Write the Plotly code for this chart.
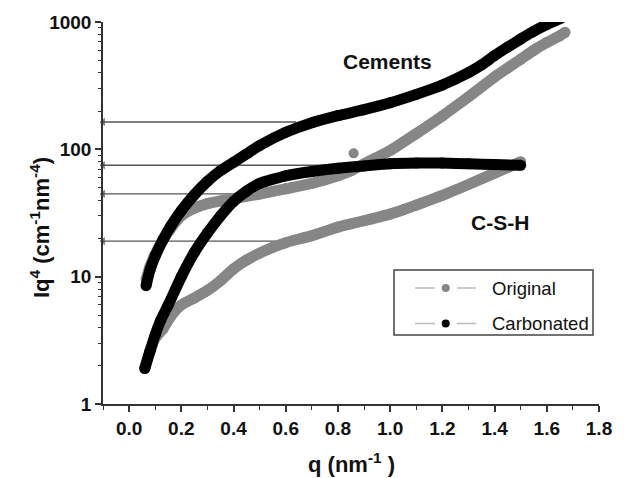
import plotly.graph_objects as go

# ---- data ----
q_cem_carb = [0.065, 0.08, 0.10, 0.13, 0.16, 0.20, 0.25, 0.30, 0.35, 0.40, 0.45, 0.50, 0.60, 0.70,
              0.80, 0.90, 1.00, 1.10, 1.20, 1.30, 1.35, 1.40, 1.45, 1.50, 1.55, 1.60, 1.66]
v_cem_carb = [8.5, 11.3, 14.5, 19.5, 25, 33, 44, 56, 68, 79, 92, 107, 136, 162,
              184, 205, 232, 270, 320, 400, 460, 545, 635, 735, 845, 955, 1080]

q_cem_orig = [0.065, 0.08, 0.10, 0.13, 0.16, 0.20, 0.25, 0.30, 0.40, 0.50, 0.60, 0.70, 0.80,
              0.85, 0.90, 1.00, 1.10, 1.20, 1.30, 1.40, 1.50, 1.55, 1.60, 1.65, 1.67]
v_cem_orig = [9.5, 12, 15, 19.5, 24, 30, 34.5, 37.5, 41, 44.5, 49, 54, 62,
              68, 77, 98, 133, 183, 258, 370, 510, 600, 690, 780, 830]

q_outlier = [0.86]
v_outlier = [93]

q_csh_carb = [0.06, 0.08, 0.10, 0.12, 0.15, 0.20, 0.25, 0.30, 0.35, 0.40, 0.45, 0.50, 0.60,
              0.70, 0.80, 0.90, 1.00, 1.10, 1.20, 1.30, 1.40, 1.50]
v_csh_carb = [1.9, 2.6, 3.5, 4.5, 6.0, 10, 15.5, 22, 30, 39, 47, 54, 62,
              67, 71, 74, 77, 78, 78, 77, 76, 75]

q_csh_orig = [0.06, 0.08, 0.10, 0.13, 0.16, 0.20, 0.25, 0.30, 0.35, 0.40, 0.45, 0.50, 0.55,
              0.60, 0.70, 0.80, 0.90, 1.00, 1.05, 1.10, 1.20, 1.30, 1.40, 1.45, 1.50]
v_csh_orig = [1.9, 2.6, 3.3, 3.9, 4.9, 6.0, 6.8, 7.8, 9.3, 11.5, 13.5, 15.3, 17,
              18.5, 21, 24.5, 27.5, 31, 33.5, 36.5, 43.5, 53, 65, 72, 80]

plateau_values = [164, 75, 44.7, 19]
plateau_q_end = [0.64, 0.86, 0.42, 0.64]

x_ticks = [0.0, 0.2, 0.4, 0.6, 0.8, 1.0, 1.2, 1.4, 1.6, 1.8]
x_tick_labels = ["0.0", "0.2", "0.4", "0.6", "0.8", "1.0", "1.2", "1.4", "1.6", "1.8"]
y_ticks = [1, 10, 100, 1000]
y_tick_labels = ["1", "10", "100", "1000"]

legend_names = ["Original", "Carbonated"]

GRAY = "#868686"
BLACK = "#000000"
FONT = "Liberation Sans, Arial, sans-serif"
TXT = "#111111"

fig = go.Figure()

# plateau guide lines with small arrowheads at the axis
for v, qe in zip(plateau_values, plateau_q_end):
    fig.add_trace(go.Scatter(
        x=[-0.1, qe], y=[v, v], mode="lines+markers",
        line=dict(color="#555555", width=1.3),
        marker=dict(symbol=["triangle-left", "circle"], size=[6, 0], color="#444444"),
        cliponaxis=False, showlegend=False, hoverinfo="skip"))

def band(x, y, color):
    fig.add_trace(go.Scatter(
        x=x, y=y, mode="lines+markers",
        line=dict(color=color, width=11, shape="spline", smoothing=0.5),
        marker=dict(color=color, size=11),
        showlegend=False))

band(q_csh_orig, v_csh_orig, GRAY)
band(q_cem_orig, v_cem_orig, GRAY)
fig.add_trace(go.Scatter(x=q_outlier, y=v_outlier, mode="markers",
                         marker=dict(color=GRAY, size=10), showlegend=False))
band(q_csh_carb, v_csh_carb, BLACK)
band(q_cem_carb, v_cem_carb, BLACK)

# plot area in pixels: x 103..599, y 22..404
def px(xp):
    return (xp - 103) / 496.0
def py(yp):
    return (404 - yp) / 382.0

# manual legend box
shapes = [dict(type="rect", xref="paper", yref="paper",
               x0=px(394), x1=px(593), y0=py(335), y1=py(270),
               line=dict(color="#444444", width=1.5), fillcolor="white", layer="above")]
annotations = []
for i, (name, col) in enumerate(zip(legend_names, [GRAY, BLACK])):
    yy = 288 + 35.5 * i
    for a, b in [(415, 435), (457, 476)]:
        shapes.append(dict(type="line", xref="paper", yref="paper",
                           x0=px(a), x1=px(b), y0=py(yy), y1=py(yy),
                           line=dict(color="#bbbbbb", width=1.5), layer="above"))
    shapes.append(dict(type="circle", xref="paper", yref="paper",
                       x0=px(441.7), x1=px(449.7), y0=py(yy + 4), y1=py(yy - 4),
                       line=dict(color=col, width=0), fillcolor=col, layer="above"))
    annotations.append(dict(xref="paper", yref="paper", x=px(490), y=py(yy),
                            xanchor="left", yanchor="middle", showarrow=False,
                            text=name, font=dict(family=FONT, size=18.5, color=TXT)))

annotations.append(dict(x=0.99, y=2.69, xref="x", yref="y", text="<b>Cements</b>",
                        showarrow=False, font=dict(family=FONT, size=21, color=TXT)))
annotations.append(dict(x=1.42, y=1.424, xref="x", yref="y", text="<b>C-S-H</b>",
                        showarrow=False, font=dict(family=FONT, size=21, color=TXT)))

# axis titles
annotations.append(dict(xref="paper", yref="paper", x=px(351), y=py(463),
                        xanchor="center", yanchor="middle", showarrow=False,
                        text="<b>q (nm<sup>-1</sup> )</b>", font=dict(family=FONT, size=22, color=TXT)))
annotations.append(dict(xref="paper", yref="paper", x=px(40), y=py(228),
                        xanchor="center", yanchor="middle", showarrow=False, textangle=-90,
                        text="<b>Iq<sup>4</sup> (cm<sup>-1</sup>nm<sup>-4</sup>)</b>",
                        font=dict(family=FONT, size=22, color=TXT)))

fig.update_layout(
    width=635, height=478,
    margin=dict(l=103, r=36, t=22, b=74),
    paper_bgcolor="white", plot_bgcolor="white",
    font=dict(family=FONT, color=TXT),
    shapes=shapes, annotations=annotations,
    showlegend=False,
)

fig.update_xaxes(
    range=[-0.1, 1.8], tickmode="array", tickvals=x_ticks, ticktext=x_tick_labels,
    showgrid=False, zeroline=False, showline=True, linecolor="#333333", linewidth=1.5,
    ticks="outside", ticklen=6, tickwidth=1.5, tickcolor="#333333",
    tickfont=dict(family=FONT, size=19, weight="bold"),
    minor=dict(dtick=0.1, tick0=0, ticks="outside", ticklen=4, tickwidth=1.2, tickcolor="#333333", showgrid=False),
)
fig.update_yaxes(
    type="log", range=[0, 3], tickmode="array", tickvals=y_ticks, ticktext=y_tick_labels,
    showgrid=False, zeroline=False, showline=True, linecolor="#333333", linewidth=1.5,
    ticks="outside", ticklen=6, tickwidth=1.5, tickcolor="#333333",
    tickfont=dict(family=FONT, size=19, weight="bold"),
    minor=dict(dtick="D1", ticks="outside", ticklen=3.5, tickwidth=1.2, tickcolor="#333333", showgrid=False),
)

fig.write_html("out.html", config={"displayModeBar": False},
               post_script="document.body.style.margin='0';document.body.style.overflow='hidden';")
